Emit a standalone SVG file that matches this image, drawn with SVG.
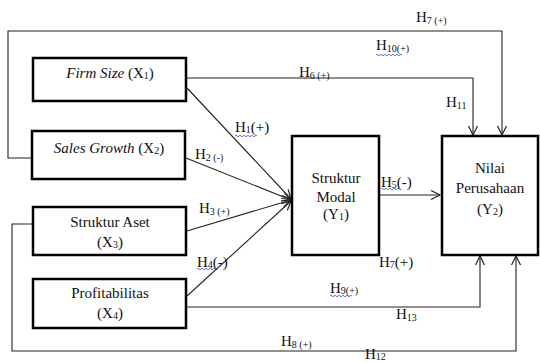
<svg xmlns="http://www.w3.org/2000/svg" width="540" height="363" viewBox="0 0 540 363" font-family="'Liberation Serif', 'Times New Roman', serif">
<style>
text{font-family:'Liberation Serif','Times New Roman',serif;font-size:15px;fill:#111}
.c{text-anchor:middle}
.s{font-size:10px}
.box{fill:#fff;stroke:#000;stroke-width:2.5}
.ln{fill:none;stroke:#222;stroke-width:1.1}
.wv{fill:none;stroke:#3050d0;stroke-width:0.8}
</style>
<defs>
<marker id="ah" markerUnits="userSpaceOnUse" markerWidth="12" markerHeight="12" refX="10" refY="5" orient="auto">
<path d="M1,0.5 L10,5 L1,9.5" fill="none" stroke="#222" stroke-width="1.2"/>
</marker>
</defs>
<g id="connectors">
<polyline class="ln" points="32,158 8,158 8,31 502,31 502,135" marker-end="url(#ah)"/>
<polyline class="ln" points="186,78 473,78 473,135" marker-end="url(#ah)"/>
<line class="ln" x1="187" y1="88" x2="291" y2="199" marker-end="url(#ah)"/>
<line class="ln" x1="186" y1="158" x2="291" y2="200" marker-end="url(#ah)"/>
<line class="ln" x1="187" y1="231" x2="291" y2="200" marker-end="url(#ah)"/>
<line class="ln" x1="187" y1="296" x2="291" y2="201" marker-end="url(#ah)"/>
<line class="ln" x1="379" y1="195" x2="440" y2="195" marker-end="url(#ah)"/>
<polyline class="ln" points="186,307 480,307 480,256" marker-end="url(#ah)"/>
<polyline class="ln" points="33,224 12,224 12,351 516,351 516,256" marker-end="url(#ah)"/>
</g>
<g id="labels">
<text x="416" y="22">H<tspan class="s" dy="2">7 (+)</tspan></text>
<text x="376" y="50">H<tspan class="s" dy="2">10(+)</tspan></text>
<path class="wv" d="M376,55 q1,-1.5 2,0 t2,0 t2,0 t2,0 t2,0 t2,0 t2,0 t2,0 t2,0 t2,0 t2,0 t2,0 t2,0"/>
<text x="299" y="77">H<tspan class="s" dy="2">6 (+)</tspan></text>
<text x="446" y="107">H<tspan class="s" dy="2">11</tspan></text>
<text x="235" y="132">H<tspan class="s" dy="1">1</tspan><tspan dy="-1">(+)</tspan></text>
<path class="wv" d="M235,136 q1,-1.5 2,0 t2,0 t2,0 t2,0 t2,0 t2,0 t2,0 t2,0 t2,0 t2,0 t2,0"/>
<text x="195" y="159">H<tspan class="s" dy="2">2 (-)</tspan></text>
<text x="199" y="213">H<tspan class="s" dy="2">3 (+)</tspan></text>
<text x="197" y="267">H<tspan class="s" dy="1">4</tspan><tspan dy="-1">(-)</tspan></text>
<path class="wv" d="M197,269 q1,-1.5 2,0 t2,0 t2,0 t2,0 t2,0 t2,0 t2,0 t2,0 t2,0"/>
<text x="381" y="187">H<tspan class="s" dy="1">5</tspan><tspan dy="-1">(-)</tspan></text>
<path class="wv" d="M381,189 q1,-1.5 2,0 t2,0 t2,0 t2,0 t2,0 t2,0 t2,0 t2,0 t2,0"/>
<text x="379" y="267">H<tspan class="s" dy="1">7</tspan><tspan dy="-1">(+)</tspan></text>
<text x="330" y="293">H<tspan class="s" dy="1">9(+)</tspan></text>
<path class="wv" d="M330,296 q1,-1.5 2,0 t2,0 t2,0 t2,0 t2,0 t2,0 t2,0 t2,0 t2,0 t2,0 t2,0"/>
<text x="396" y="319">H<tspan class="s" dy="2">13</tspan></text>
<text x="281" y="346">H<tspan class="s" dy="2">8 (+)</tspan></text>
<text x="365" y="359">H<tspan class="s" dy="1">12</tspan></text>
</g>
<g id="x1">
<rect class="box" x="33" y="58" width="153" height="43"/>
<text class="c" x="110" y="78"><tspan font-style="italic">Firm Size</tspan> (X<tspan class="s" dy="1">1</tspan><tspan dy="-1">)</tspan></text>
</g>
<g id="x2">
<rect class="box" x="32" y="131" width="153" height="48"/>
<text class="c" x="109" y="153"><tspan font-style="italic">Sales Growth</tspan> (X<tspan class="s" dy="1">2</tspan><tspan dy="-1">)</tspan></text>
</g>
<g id="x3">
<rect class="box" x="33" y="207" width="153" height="48"/>
<text class="c" x="110" y="227">Struktur Aset</text>
<text class="c" x="110" y="247">(X<tspan class="s" dy="1">3</tspan><tspan dy="-1">)</tspan></text>
</g>
<g id="x4">
<rect class="box" x="33" y="279" width="153" height="49"/>
<text class="c" x="110" y="298">Profitabilitas</text>
<text class="c" x="110" y="318">(X<tspan class="s" dy="1">4</tspan><tspan dy="-1">)</tspan></text>
</g>
<g id="y1">
<rect class="box" x="292" y="136" width="87" height="119"/>
<text class="c" x="336" y="183">Struktur</text>
<text class="c" x="336" y="202">Modal</text>
<text class="c" x="336" y="219">(Y<tspan class="s" dy="1">1</tspan><tspan dy="-1">)</tspan></text>
</g>
<g id="y2">
<rect class="box" x="442" y="136" width="96" height="119"/>
<text class="c" x="490" y="173">Nilai</text>
<text class="c" x="490" y="193">Perusahaan</text>
<text class="c" x="490" y="214">(Y<tspan class="s" dy="1">2</tspan><tspan dy="-1">)</tspan></text>
</g>
</svg>
